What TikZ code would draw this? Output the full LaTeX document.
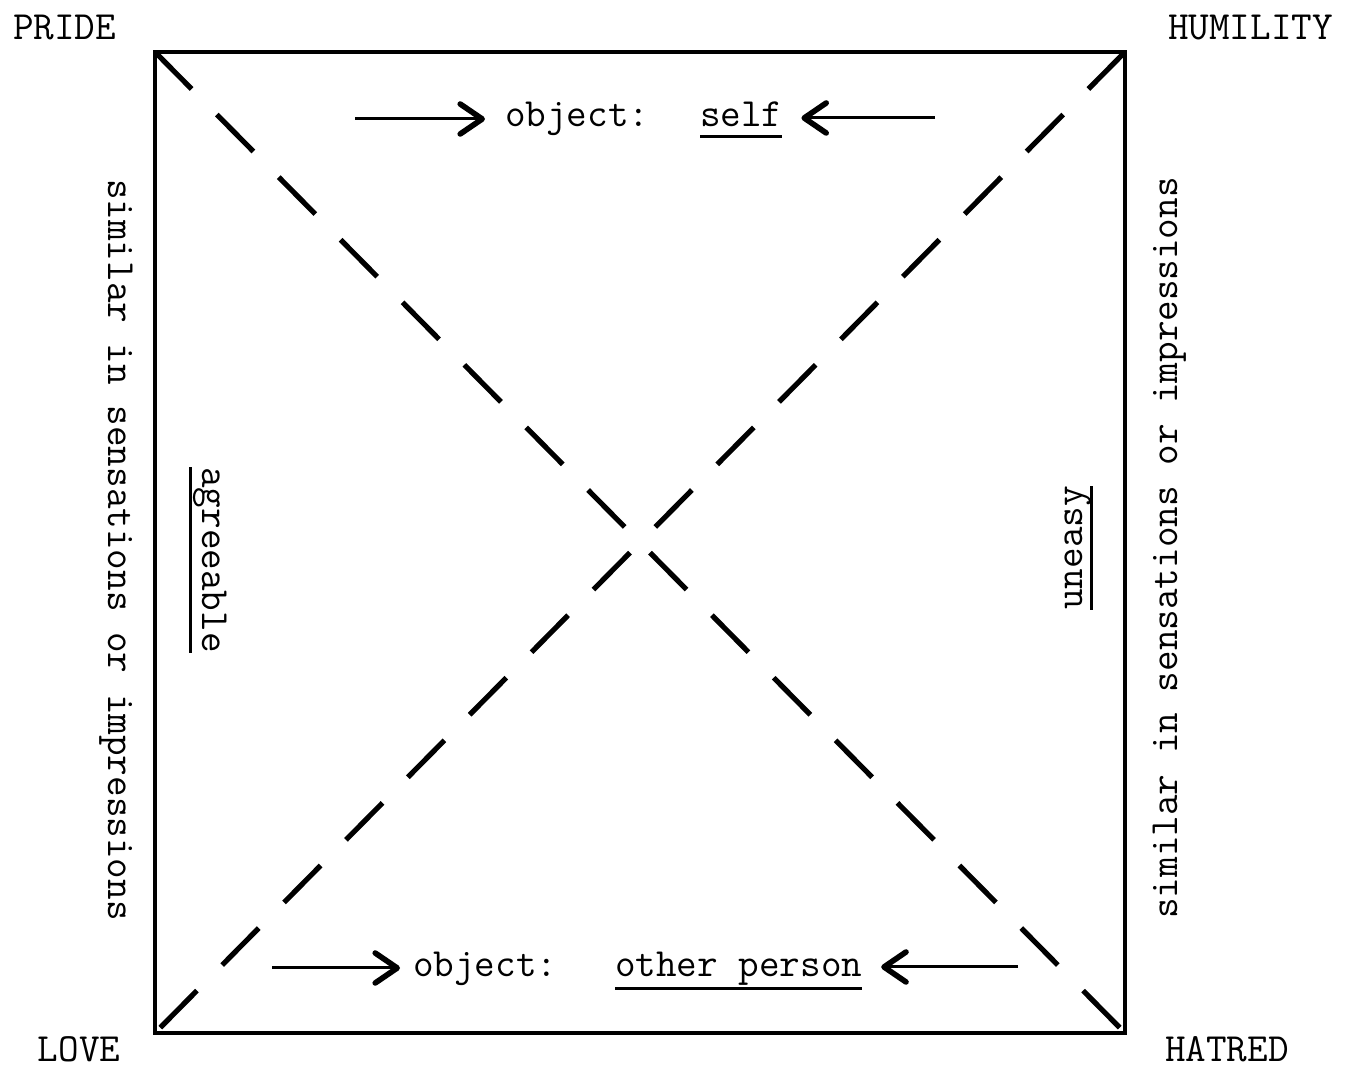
\documentclass[tikz,border=0pt]{standalone}
\usepackage{fontspec}
\usetikzlibrary{arrows.meta}
\newcommand{\ulx}[2]{\setbox0=\hbox{#2}\rlap{\rule[#1]{\wd0}{1.5pt}}\box0}
\tikzset{
  lbl/.style={font=\fontsize{20}{24}\selectfont\ttfamily, inner sep=0pt, outer sep=0pt},
  frame/.style={line width=2pt, line join=miter},
  diag/.style={line width=2.6pt, dash pattern=on 26pt off 18pt},
  arr/.style={line width=1.5pt, -{Straight Barb[length=11pt,width=15pt,line width=2.8pt,round]}},
}
\begin{document}
\begin{tikzpicture}[x=0.5pt,y=0.5pt]
\useasboundingbox[fill=white] (0,0) rectangle (1346,-1068);
% corners
\coordinate (TL) at (155,-52);
\coordinate (TR) at (1125,-52);
\coordinate (BR) at (1125,-1033);
\coordinate (BL) at (155,-1033);
\draw[frame] (TL) -- (TR) -- (BR) -- (BL) -- cycle;
\draw[diag] (TL) -- (BR);
\draw[diag] (TR) -- (BL);
% corner labels
\node[lbl, anchor=base west] (pride) at (13,-40) {PRIDE};
\node[lbl, anchor=base west] (humility) at (1168,-40) {HUMILITY};
\node[lbl, anchor=base west] (love) at (38,-1062) {LOVE};
\node[lbl, anchor=base west] (hatred) at (1165,-1062) {HATRED};
% top row
\node[lbl, anchor=base west] (objA) at (505,-127) {object:};
\node[lbl, anchor=base west] (self) at (700,-127) {\ulx{-5.75pt}{self}};
\coordinate (a1) at (355,-119);
\coordinate (a2) at (935,-118);
\draw[arr, shorten >=10pt] (a1) -- (a1 -| objA.west);
\draw[arr, shorten >=9.5pt] (a2) -- (a2 -| self.east);
% bottom row
\node[lbl, anchor=base west] (objB) at (413,-977) {object:};
\node[lbl, anchor=base west] (other) at (615,-977) {\ulx{-6.75pt}{other person}};
\coordinate (b1) at (272,-968);
\coordinate (b2) at (1018,-967);
\draw[arr, shorten >=6.5pt] (b1) -- (b1 -| objB.west);
\draw[arr, shorten >=9.5pt] (b2) -- (b2 -| other.east);
% side texts
\node[lbl, anchor=base, rotate=-90] (leftsim) at (108,-550) {similar in sensations or impressions};
\node[lbl, anchor=base, rotate=-90] (agree) at (202,-560) {\ulx{-6.75pt}{agreeable}};
\node[lbl, anchor=base, rotate=90] (uneasy) at (1082,-548) {\ulx{-5.5pt}{uneasy}};
\node[lbl, anchor=base, rotate=90] (rightsim) at (1177,-548) {similar in sensations or impressions};
\end{tikzpicture}
\end{document}
